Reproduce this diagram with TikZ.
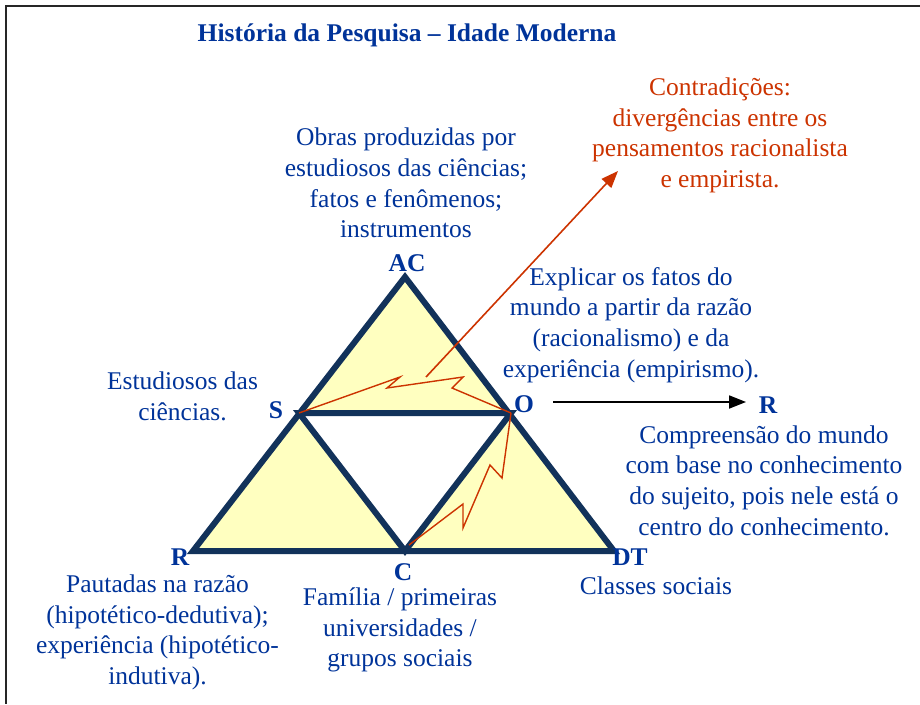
\documentclass[tikz,border=0pt]{standalone}
\usepackage{fontspec}
\setmainfont{Liberation Serif}
\usetikzlibrary{arrows.meta}
\definecolor{txtblue}{RGB}{0,51,153}
\definecolor{navy}{RGB}{18,50,90}
\definecolor{paleyellow}{RGB}{255,255,192}
\definecolor{redtxt}{RGB}{204,51,0}
\begin{document}
\begin{tikzpicture}[x=1pt,y=-1pt,
  txt/.style={text=txtblue, align=center, inner sep=0pt, font=\fontsize{25.5}{30.7}\selectfont},
  rtxt/.style={txt, text=redtxt},
  lbl/.style={text=txtblue, inner sep=0pt, font=\fontsize{25.5}{30}\selectfont\bfseries},
  tri/.style={draw=navy, line width=6pt, line join=miter},
  bolt/.style={draw=redtxt, line width=1.4pt, line join=miter},
]
\useasboundingbox (0,0) rectangle (920,704);
\draw[line width=2pt, black!85] (920,6) -- (6,6) -- (6,704);

% title
\node[lbl] (title) at (407,35) {História da Pesquisa – Idade Moderna};

% triangle vertices
\coordinate (vAC) at (405,277);
\coordinate (vR) at (193,551);
\coordinate (vDT) at (614,551);
\coordinate (vS) at (299,413);
\coordinate (vO) at (511,413);
\coordinate (vC) at (405,551);

\fill[paleyellow] (vR) -- (vAC) -- (vDT) -- cycle;
\fill[white] (vS) -- (vO) -- (vC) -- cycle;
\draw[tri] (vR) -- (vAC) -- (vDT) -- cycle;
\draw[tri] (vS) -- (vO) -- (vC) -- cycle;

% vertex labels
\node[lbl] (lAC) at (407,263) {AC};
\node[lbl] (lS) at (276,410) {S};
\node[lbl] (lO) at (524,404) {O};
\node[lbl] (lR) at (180,557) {R};
\node[lbl] (lC) at (403,572) {C};
\node[lbl] (lDT) at (630,557) {DT};
\node[lbl] (lR2) at (768,405) {R};

% lightning bolts
\coordinate (b1) at (400,377);
\coordinate (b2) at (387,388);
\coordinate (b3) at (463,377);
\coordinate (b4) at (452,388);
\draw[bolt] (vS) -- (b1) -- (b2) -- (b3) -- (b4) -- (vO);
\coordinate (c1) at (502,478);
\coordinate (c2) at (490,465);
\coordinate (c3) at (463,528);
\coordinate (c4) at (463,504);
\coordinate (c5) at (409,545);
\draw[bolt] (vO) -- (c1) -- (c2) -- (c3) -- (c4) -- (c5);

% red arrow
\coordinate (aStart) at (426,377);
\coordinate (aEnd) at (618,171);
\draw[redtxt, line width=1.6pt, -{Triangle[length=17pt,width=13pt]}] (aStart) -- (aEnd);

% black arrow O -> R
\coordinate (kStart) at (553,402);
\coordinate (kEnd) at (746,402);
\draw[black, line width=1.8pt, -{Triangle[length=17pt,width=13pt]}] (kStart) -- (kEnd);

% texts
\node[txt] (tObras) at (406,183) {Obras produzidas por\\estudiosos das ciências;\\fatos e fenômenos;\\instrumentos};
\node[rtxt] (tContr) at (720,135.5) {Contradições:\\divergências entre os\\pensamentos racionalista\\e empirista.};
\node[txt] (tExpl) at (631,325) {Explicar os fatos do\\mundo a partir da razão\\(racionalismo) e da\\experiência (empirismo).};
\node[txt] (tEstud) at (182.5,396) {Estudiosos das\\ciências.};
\node[txt] (tCompr) at (764,480.5) {Compreensão do mundo\\com base no conhecimento\\do sujeito, pois nele está o\\centro do conhecimento.};
\node[txt] (tPaut) at (157.5,632.5) {Pautadas na razão\\(hipotético-dedutiva);\\experiência (hipotético-\\indutiva).};
\node[txt] (tFam) at (400,630) {Família / primeiras\\universidades /\\grupos sociais};
\node[txt] (tClass) at (656,586) {Classes sociais};
\end{tikzpicture}
\end{document}
